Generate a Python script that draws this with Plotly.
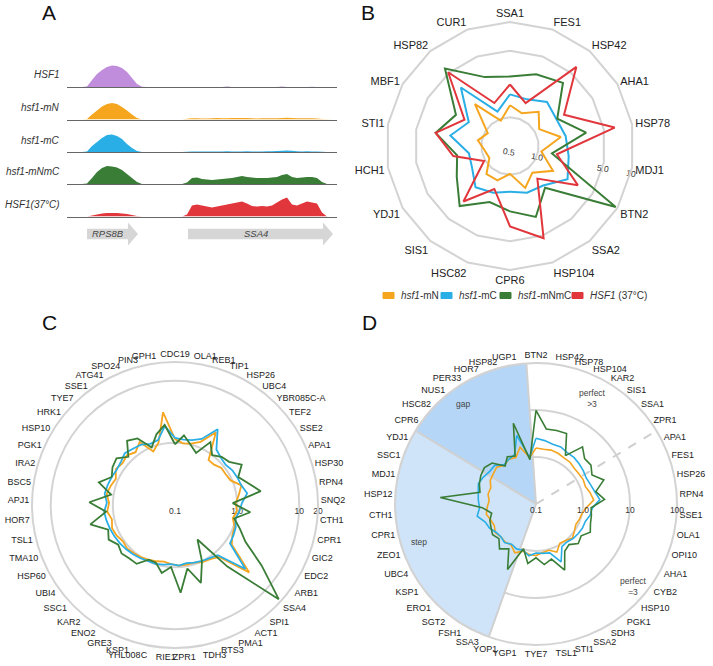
import math
import plotly.graph_objects as go

W, H = 713, 666

# colours
purple = "#c08cdc"
orange = "#f5a51e"
blue = "#2aaee6"
green = "#3a7d37"
red = "#e1373c"
grid_gray = "#d3d3d3"
font_family = "Liberation Sans, Arial, sans-serif"


def px_x(p):
    return p / W


def px_y(p):
    return 1 - p / H


# ------------------------------
# Panel A data (coverage tracks)
# ------------------------------
bin_size = 50
positions = list(range(0, 2701, bin_size))

cov_hsf1 = [0, 0, 0, 0, 0.5, 7, 13, 17, 20, 21.5,
            21, 19, 15, 9, 3, 0.3, 0, 0, 0, 0,
            0, 0, 0, 0, 0, 0, 0, 0, 0, 0,
            0, 0, 0.4, 0, 0, 0, 0, 0, 0, 0,
            0, 0, 0, 0.4, 0, 0, 0, 0, 0, 0.3,
            0, 0, 0, 0, 0]
cov_mN = [0, 0, 0, 0, 0.5, 5, 9, 13, 15.5, 16.5,
          15.5, 12.5, 9, 5, 1.5, 0, 0, 0, 0, 0,
          0, 0, 0, 0, 0.8, 1.2, 1.2, 1.0, 1.1, 1.3,
          1.4, 1.3, 1.2, 1.4, 1.5, 1.6, 1.4, 1.2, 1.1, 1.2,
          1.3, 1.2, 1.3, 1.5, 1.7, 1.6, 1.3, 1.2, 1.3, 1.2,
          1.0, 0.5, 0.2, 0, 0]
cov_mC = [0, 0, 0, 0, 0.5, 6, 10, 14, 17, 17.5,
          16, 13, 8, 4, 1, 0, 0, 0, 0, 0,
          0, 0, 0, 0, 0.3, 0.5, 0.5, 0.4, 0.5, 0.6,
          0.5, 0.6, 0.7, 0.6, 0.5, 0.6, 0.7, 0.6, 0.5, 0.6,
          0.7, 0.8, 0.9, 1.3, 1.6, 1.2, 0.7, 0.6, 0.7, 0.6,
          0.5, 0.3, 0, 0, 0]
cov_mNmC = [0, 0, 0, 0, 0.5, 6, 12, 16, 18, 17.5,
            16.5, 14, 10, 6, 2, 0, 0, 0, 0, 0,
            0, 0, 0, 0, 1.5, 6, 6.5, 5, 4.5, 4,
            4.5, 5, 5.5, 6, 7, 8, 7, 6.5, 6, 6,
            6, 6.5, 7, 9, 10, 7, 6, 6.5, 7, 7,
            6, 2, 0, 0, 0]
cov_37 = [0, 0, 0, 0, 0, 1, 2, 3, 3.5, 3.5,
          3.5, 3, 2.5, 1.5, 0.5, 0, 0, 0, 0, 0,
          0, 0, 0, 0, 2, 11, 12, 11, 10, 9,
          10, 11, 12, 13, 14, 15, 13, 10.5, 10, 10.5,
          10, 11, 14, 17, 19, 12, 11, 13, 15, 14,
          13, 4, 0, 0, 0]

track_names = ["HSF1", "hsf1-mN", "hsf1-mC", "hsf1-mNmC", "HSF1(37°C)"]
track_colors = [purple, orange, blue, green, red]
track_cov = [cov_hsf1, cov_mN, cov_mC, cov_mNmC, cov_37]

gene_names = ["RPS8B", "SSA4"]
gene_start = [200, 1210]
gene_end = [710, 2660]

# ------------------------------
# Panel B data
# ------------------------------
b_genes = ["SSA1", "FES1", "HSP42", "AHA1", "HSP78", "MDJ1", "BTN2", "SSA2", "HSP104",
           "CPR6", "HSC82", "SIS1", "YDJ1", "HCH1", "STI1", "MBF1", "HSP82", "CUR1"]
b_mN = [1.34, 1.16, 1.47, 1.13, 1.74, 1.08, 1.66, 1.16, 1.47,
        0.98, 1.21, 1.21, 0.89, 0.93, 1.10, 0.93, 1.87, 0.96]
b_mC = [1.74, 1.66, 2.01, 1.83, 1.96, 2.11, 2.49, 1.74, 1.66,
        1.51, 1.66, 1.83, 1.44, 1.37, 2.16, 1.58, 3.17, 1.21]
b_mNmC = [2.68, 3.17, 3.66, 1.87, 3.24, 1.40, 9.55, 1.87, 3.10,
          2.43, 2.11, 3.32, 2.21, 1.83, 3.10, 2.26, 5.77, 2.94]
b_37 = [2.21, 1.51, 6.06, 2.26, 6.52, 1.58, 3.32, 1.40, 5.37,
        3.49, 1.51, 2.88, 1.03, 2.01, 3.10, 1.78, 5.12, 1.51]

# ------------------------------
# Panel C data
# ------------------------------
c_genes = ["CDC19", "OLA1", "REB1", "TIP1", "HSP26", "UBC4", "YBR085C-A", "TEF2", "SSE2", "APA1",
           "HSP30", "RPN4", "SNQ2", "CTH1", "CPR1", "GIC2", "EDC2", "ARB1", "SSA4", "SPI1",
           "ACT1", "PMA1", "RTS3", "TDH3", "ZPR1", "RIE1", "YHL008C", "KSP1", "GRE3", "ENO2",
           "KAR2", "SSC1", "UBI4", "HSP60", "TMA10", "TSL1", "HOR7", "APJ1", "BSC5", "IRA2",
           "PGK1", "HSP10", "HRK1", "TYE7", "SSE1", "ATG41", "SPO24", "PIN3", "GPH1"]
c_mN = [1.15, 1.0, 1.05, 1.25, 2.2, 0.8, 0.8, 0.9, 0.9, 0.95,
        1.3, 1.1, 0.95, 1.0, 0.9, 1.05, 1.1, 1.3, 4.1, 1.25,
        1.1, 1.05, 0.95, 0.95, 0.95, 0.9, 0.85, 0.9, 0.95, 1.0,
        1.05, 1.1, 1.05, 1.15, 1.2, 1.1, 1.25, 1.15, 1.3, 1.2,
        1.1, 1.3, 1.2, 1.3, 1.15, 1.45, 0.85, 1.1, 3.2]
c_mC = [1.2, 1.15, 1.2, 1.4, 2.5, 1.3, 1.15, 1.1, 1.2, 1.25,
        1.3, 1.5, 1.2, 1.1, 1.0, 1.1, 1.15, 1.2, 3.4, 1.15,
        1.05, 1.0, 0.95, 0.9, 0.95, 0.9, 0.95, 1.0, 1.0, 1.05,
        1.1, 1.15, 1.2, 1.25, 1.3, 1.35, 1.4, 1.25, 1.4, 1.35,
        1.3, 1.25, 1.3, 1.45, 1.35, 1.3, 1.15, 1.2, 1.9]
c_mNmC = [0.95, 1.35, 1.0, 0.8, 1.45, 1.0, 1.2, 1.3, 1.8, 1.3,
          1.7, 2.5, 0.85, 1.65, 0.95, 1.3, 1.9, 5.0, 18, 2.0,
          0.46, 1.0, 2.1, 1.1, 2.6, 1.0, 1.3, 0.95, 0.95, 1.35,
          1.35, 1.45, 1.3, 1.6, 1.4, 2.5, 1.3, 2.4, 1.1, 1.9,
          1.3, 1.5, 1.6, 1.2, 1.95, 1.7, 1.0, 1.5, 2.0]

# ------------------------------
# Panel D data
# ------------------------------
d_genes = ["BTN2", "HSP42", "HSP78", "HSP104", "KAR2", "SIS1", "SSA1", "ZPR1", "APA1", "FES1",
           "HSP26", "RPN4", "SSE1", "OLA1", "OPI10", "AHA1", "CYB2", "HSP10", "PGK1", "SDH3",
           "SSA2", "STI1", "TSL1", "TYE7", "YGP1", "YOP1", "SSA3", "FSH1", "SGT2", "ERO1",
           "KSP1", "UBC4", "ZEO1", "CPR1", "CTH1", "HSP12", "MDJ1", "SSC1", "YDJ1", "CPR6",
           "HSC82", "NUS1", "PER33", "HOR7", "HSP82", "UGP1"]
d_mN = [1.55, 1.5, 1.55, 1.5, 1.4, 1.4, 1.3, 1.3, 1.35, 1.3,
        1.5, 1.7, 1.2, 1.0, 0.95, 0.9, 1.0, 1.15, 1.0, 0.95,
        1.3, 1.05, 1.1, 1.25, 1.2, 1.1, 1.35, 1.05, 1.1, 1.05,
        1.15, 1.0, 1.05, 1.2, 1.1, 1.0, 1.1, 1.05, 1.25, 1.3,
        1.4, 1.15, 1.3, 1.2, 1.8, 1.0]
d_mC = [2.5, 2.3, 2.1, 2.1, 1.9, 1.9, 1.8, 1.7, 1.6, 1.7,
        1.9, 2.3, 1.6, 1.5, 1.3, 1.3, 1.25, 1.2, 1.1, 1.15,
        2.2, 1.2, 1.15, 1.1, 1.3, 1.05, 1.1, 1.0, 1.15, 1.05,
        1.1, 1.3, 1.4, 1.9, 1.6, 1.7, 1.8, 2.0, 1.8, 1.6,
        1.6, 1.2, 1.3, 1.4, 3.3, 1.0]
d_mNmC = [9.8, 4.1, 4.2, 4.3, 1.6, 3.7, 2.6, 2.7, 2.2, 3.4,
          2.0, 2.9, 1.5, 1.6, 1.7, 2.0, 1.5, 1.7, 1.3, 1.5,
          3.4, 1.65, 2.0, 1.4, 1.9, 0.97, 3.3, 1.3, 1.7, 1.2,
          1.35, 1.2, 1.1, 0.92, 1.4, 11, 1.65, 1.9, 2.1, 2.2,
          1.9, 1.1, 1.5, 1.3, 6.1, 0.9]
gap_genes = ["CPR6", "HSC82", "NUS1", "PER33", "HOR7", "HSP82", "UGP1"]
step_genes = ["SSA3", "FSH1", "SGT2", "ERO1", "KSP1", "UBC4", "ZEO1", "CPR1", "CTH1",
              "HSP12", "MDJ1", "SSC1", "YDJ1"]
perfect_split = ("ZPR1", "APA1")

legend_labels = ["<i>hsf1</i>-mN", "<i>hsf1</i>-mC", "<i>hsf1</i>-mNmC", "<i>HSF1</i> (37°C)"]
legend_colors = [orange, blue, green, red]

fig = go.Figure()

# ------------------------------
# Panel A: coverage tracks
# ------------------------------
track_base = [87, 119.5, 152, 184, 216.5]
track_h = 25
for i, (name, color, cov) in enumerate(zip(track_names, track_colors, track_cov)):
    n = i + 1
    xa = "x" if n == 1 else f"x{n}"
    ya = "y" if n == 1 else f"y{n}"
    fig.add_trace(
        go.Scatter(
            x=positions, y=cov, mode="none", fill="tozeroy",
            fillcolor=color, xaxis=xa, yaxis=ya, showlegend=False, hoverinfo="skip",
        )
    )
    fig.layout[f"xaxis{n if n > 1 else ''}"] = dict(
        domain=[px_x(67), px_x(337)], range=[0, 2700], anchor=ya,
        showline=True, linecolor="#666", linewidth=1, showgrid=False,
        zeroline=False, showticklabels=False, ticks="",
        **({} if n == 1 else {"matches": "x"}),
    )
    fig.layout[f"yaxis{n if n > 1 else ''}"] = dict(
        domain=[px_y(track_base[i]), px_y(track_base[i] - track_h)],
        range=[0, track_h], anchor=xa, visible=False,
    )
    fig.add_annotation(
        x=px_x(62), y=px_y(track_base[i] - 12), xref="paper", yref="paper",
        text=f"<i>{name}</i>", showarrow=False, xanchor="right", yanchor="middle",
        font=dict(size=10, color="#333"),
    )

# gene arrows
head = 100
body = 0.47
gx, gy = [], []
for s, e in zip(gene_start, gene_end):
    gx += [s, e - head, e - head, e, e - head, e - head, s, s, None]
    gy += [-body, -body, -1, 0, 1, body, body, -body, None]
fig.add_trace(
    go.Scatter(x=gx, y=gy, mode="lines", fill="toself", fillcolor="#d6d6d6",
               line=dict(width=0), xaxis="x6", yaxis="y6", showlegend=False,
               hoverinfo="skip")
)
fig.update_layout(
    xaxis6=dict(domain=[px_x(67), px_x(337)], range=[0, 2700], anchor="y6",
                visible=False),
    yaxis6=dict(domain=[px_y(246), px_y(222)], range=[-1.05, 1.05], anchor="x6",
                visible=False),
)
for name, s, e in zip(gene_names, gene_start, gene_end):
    fig.add_annotation(x=(s + e - head) / 2, y=0, xref="x6", yref="y6",
                       text=f"<i>{name}</i>", showarrow=False,
                       font=dict(size=9.5, color="#444"))

# ------------------------------
# Panel B: radar, polygon grid
# ------------------------------
for vals, color in zip([b_mN, b_mC, b_mNmC, b_37], [orange, blue, green, red]):
    fig.add_trace(
        go.Scatterpolar(r=vals + vals[:1], theta=b_genes + b_genes[:1], mode="lines",
                        line=dict(color=color, width=2), subplot="polar",
                        showlegend=False, hoverinfo="skip")
    )

# ------------------------------
# Panel C
# ------------------------------
for vals, color in zip([c_mN, c_mC, c_mNmC], [orange, blue, green]):
    fig.add_trace(
        go.Scatterpolar(r=vals + vals[:1], theta=c_genes + c_genes[:1], mode="lines",
                        line=dict(color=color, width=1.8), subplot="polar2",
                        showlegend=False, hoverinfo="skip")
    )

# ------------------------------
# Panel D
# ------------------------------
d_step = 360 / len(d_genes)
d_theta = [i * d_step for i in range(len(d_genes))]
for genes, shade in [(gap_genes, "#b5d6f6"), (step_genes, "#cfe4f9")]:
    idx = [d_genes.index(g) for g in genes]
    fig.add_trace(
        go.Barpolar(
            theta=[sum(idx) / len(idx) * d_step], width=[len(idx) * d_step],
            r=[100 - 0.1], base=[0.1], marker=dict(color=shade,
                                                   line=dict(color="#d0d0d0", width=2)),
            subplot="polar3", showlegend=False, hoverinfo="skip",
        )
    )
split_theta = (d_genes.index(perfect_split[0]) + d_genes.index(perfect_split[1])) / 2 * d_step
fig.add_trace(
    go.Scatterpolar(r=[0.1, 100], theta=[split_theta, split_theta], mode="lines",
                    line=dict(color="#cfcfcf", width=2, dash="dash"),
                    subplot="polar3", showlegend=False, hoverinfo="skip")
)
for vals, color in zip([d_mN, d_mC, d_mNmC], [orange, blue, green]):
    fig.add_trace(
        go.Scatterpolar(r=vals + vals[:1], theta=d_theta + d_theta[:1], mode="lines",
                        line=dict(color=color, width=1.6), subplot="polar3",
                        showlegend=False, hoverinfo="skip")
    )

angular_common = dict(rotation=90, direction="clockwise", showgrid=False,
                      showline=True, linecolor=grid_gray, linewidth=2, ticks="")
radial_common = dict(type="log", showline=False, ticks="", gridcolor=grid_gray,
                     gridwidth=2, angle=0, tickfont=dict(size=8.5, color="#333"))

fig.update_layout(
    polar=dict(
        domain=dict(x=[px_x(386), px_x(634)], y=[px_y(270), px_y(22)]),
        gridshape="linear", bgcolor="rgba(0,0,0,0)",
        angularaxis=dict(**angular_common, tickfont=dict(size=11, color="#222")),
        radialaxis=dict(**radial_common, range=[math.log10(0.5), 1.0005],
                        tickvals=[0.5, 1, 5, 10], ticktext=["0.5", "1.0", "5.0", "10"],
                        layer="below traces"),
    ),
    polar2=dict(
        domain=dict(x=[px_x(32), px_x(318)], y=[px_y(648), px_y(362)]),
        bgcolor="rgba(0,0,0,0)",
        angularaxis=dict(**angular_common, tickfont=dict(size=9, color="#222")),
        radialaxis=dict(**radial_common, range=[-1, math.log10(20) + 0.0005],
                        tickvals=[0.1, 1, 10, 20], ticktext=["0.1", "1.0", "10", "20"],
                        layer="below traces"),
    ),
    polar3=dict(
        domain=dict(x=[px_x(395), px_x(677)], y=[px_y(645), px_y(363)]),
        bgcolor="rgba(0,0,0,0)", bargap=0,
        angularaxis=dict(**angular_common, type="linear", thetaunit="degrees",
                         tickmode="array", tickvals=d_theta, ticktext=d_genes,
                         tickfont=dict(size=9, color="#222")),
        radialaxis=dict(**radial_common, range=[-1, 2.0005],
                        tickvals=[0.1, 1, 10, 100], ticktext=["0.1", "1.0", "10", "100"],
                        layer="above traces"),
    ),
)

# legend for panel B, drawn by hand
legend_x = [383, 441, 500, 572]
for lx, lab, col in zip(legend_x, legend_labels, legend_colors):
    fig.add_shape(type="rect", xref="paper", yref="paper",
                  x0=px_x(lx), x1=px_x(lx + 11), y0=px_y(298.5), y1=px_y(292.5),
                  fillcolor=col, line=dict(color=col, width=1))
    fig.add_annotation(x=px_x(lx + 16), y=px_y(295.5), xref="paper", yref="paper",
                       text=lab, showarrow=False, xanchor="left", yanchor="middle",
                       font=dict(size=10, color="#333"))

# sector captions in panel D
for txt, x, y in [("gap", 463, 404), ("step", 419, 542),
                  ("perfect<br>&gt;3", 592, 398), ("perfect<br>=3", 633, 586)]:
    fig.add_annotation(x=px_x(x), y=px_y(y), xref="paper", yref="paper", text=txt,
                       showarrow=False, xanchor="center", yanchor="middle",
                       font=dict(size=8.5, color="#444"))

# panel letters
for letter, x, y in [("A", 49, 12), ("B", 368, 12), ("C", 49, 322), ("D", 369, 322)]:
    fig.add_annotation(x=px_x(x), y=px_y(y), xref="paper", yref="paper", text=letter,
                       showarrow=False, xanchor="center", yanchor="middle",
                       font=dict(size=21, color="#111"))

fig.update_layout(
    width=W, height=H, margin=dict(l=0, r=0, t=0, b=0),
    paper_bgcolor="white", plot_bgcolor="white", showlegend=False,
    font=dict(family=font_family, size=10, color="#222"),
)

# the page's default body margin would push the figure 8px off the origin
fig.write_html("out.html", config={"displayModeBar": False},
               post_script="document.body.style.margin='0px';")
